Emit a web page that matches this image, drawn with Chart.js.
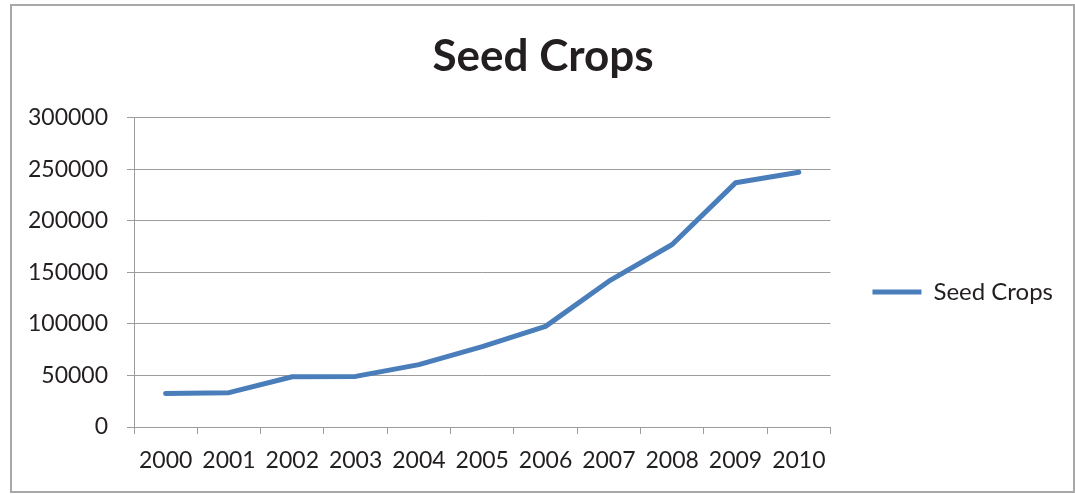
<!DOCTYPE html>
<html>
<head>
<meta charset="utf-8">
<script src="https://cdn.jsdelivr.net/npm/chart.js@4/dist/chart.umd.min.js"></script>
<style>
  html, body { margin: 0; padding: 0; background: #fff; }
  #wrap { width: 1075px; height: 494px; position: relative; }
</style>
</head>
<body>
<div id="wrap"><canvas id="chart"></canvas></div>
<script>
const years = ['2000', '2001', '2002', '2003', '2004', '2005', '2006', '2007', '2008', '2009', '2010'];
const seedCrops = [32400, 33300, 48800, 49100, 60500, 78000, 97600, 141500, 177100, 236900, 247200];
const yMax = 300000;
const yStep = 50000;

const FONT = 'Lato, "Open Sans", sans-serif';
const TEXT = '#231f20';
const GRID = '#9c9c9c';

// outer frame round the whole chart, title centred on the frame
const framePlugin = {
  id: 'frame',
  afterLayout(chart) {
    if (chart.titleBlock) {
      chart.titleBlock.left = 11;
      chart.titleBlock.right = 1075;
    }
  },
  beforeDraw(chart) {
    const ctx = chart.ctx;
    ctx.save();
    ctx.fillStyle = '#fff';
    ctx.fillRect(0, 0, chart.width, chart.height);
    ctx.strokeStyle = '#a8a8a8';
    ctx.lineWidth = 2;
    ctx.strokeRect(11, 5, 1063, 487);
    ctx.restore();
  },
};

new Chart(document.getElementById('chart'), {
  type: 'line',
  data: {
    labels: years,
    datasets: [
      {
        label: 'Seed Crops',
        data: seedCrops,
        borderColor: '#4a7ebb',
        backgroundColor: '#4a7ebb',
        borderWidth: 5,
        borderCapStyle: 'round',
        borderJoinStyle: 'round',
        pointRadius: 0,
        pointHoverRadius: 0,
        tension: 0,
        fill: false,
      },
    ],
  },
  options: {
    responsive: true,
    maintainAspectRatio: false,
    animation: false,
    layout: { padding: { left: 0, right: 12, top: 0, bottom: 0 } },
    plugins: {
      title: {
        display: true,
        text: 'Seed Crops',
        color: TEXT,
        font: { family: FONT, size: 44, weight: 'bold' },
        padding: { top: 30, bottom: 35 },
      },
      legend: {
        position: 'right',
        fullSize: false,
        title: {
          display: true,
          text: ' ',
          font: { size: 10 },
          padding: { top: 27, bottom: 0 },
        },
        labels: {
          usePointStyle: true,
          pointStyle: 'line',
          pointStyleWidth: 49,
          padding: 42,
          color: TEXT,
          font: { family: FONT, size: 24 },
        },
      },
      tooltip: { enabled: false },
    },
    scales: {
      x: {
        offset: true,
        afterFit: (scale) => {
          scale.height = 67;
        },
        grid: {
          offset: true,
          drawOnChartArea: false,
          drawTicks: true,
          tickLength: 7,
          color: GRID,
        },
        border: { color: GRID },
        ticks: {
          color: TEXT,
          padding: 13,
          maxRotation: 0,
          font: { family: FONT, size: 23 },
        },
      },
      y: {
        min: 0,
        max: yMax,
        afterFit: (scale) => {
          scale.width = 134;
        },
        grid: { color: GRID, tickLength: 7 },
        border: { color: GRID },
        ticks: {
          stepSize: yStep,
          color: TEXT,
          padding: 19,
          font: { family: FONT, size: 23 },
          callback: (value) => String(value),
        },
      },
    },
  },
  plugins: [framePlugin],
});
</script>
</body>
</html>
